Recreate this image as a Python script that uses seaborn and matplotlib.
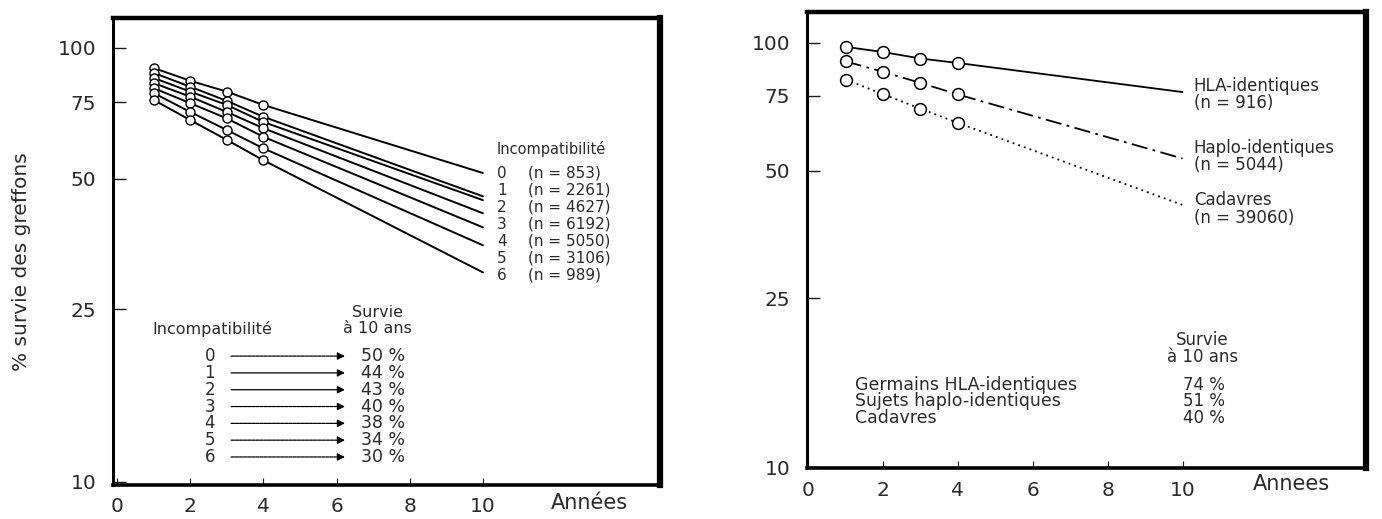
import matplotlib
matplotlib.use("Agg")
import matplotlib.pyplot as plt
import seaborn as sns
import numpy as np
import pandas as pd

# --- data ---
annees = [1, 2, 3, 4, 10]

# left panel: survival by number of incompatibilities
incompat = ["0", "1", "2", "3", "4", "5", "6"]
effectifs = ["853", "2261", "4627", "6192", "5050", "3106", "989"]
survie_incompat = [
    [89.9, 84.0, 79.3, 73.9, 51.5],
    [87.6, 81.4, 75.5, 69.4, 45.5],
    [85.3, 79.3, 73.9, 67.5, 44.6],
    [83.0, 77.2, 71.2, 65.3, 41.6],
    [80.8, 74.6, 68.8, 62.4, 38.6],
    [78.7, 71.2, 64.7, 58.7, 35.1],
    [75.9, 68.2, 61.4, 55.1, 30.4],
]
survie_10ans_incompat = ["50 %", "44 %", "43 %", "40 %", "38 %", "34 %", "30 %"]

# right panel: donor type
donneurs = ["HLA-identiques", "Haplo-identiques", "Cadavres"]
effectifs_donneurs = ["916", "5044", "39060"]
survie_hla = [97.9, 95.2, 91.9, 89.7, 76.6]
survie_haplo = [90.5, 85.5, 80.5, 75.6, 53.4]
survie_cadavres = [82.0, 75.7, 70.0, 64.8, 41.5]
lignes_tableau = ["Germains HLA-identiques", "Sujets haplo-identiques", "Cadavres"]
survie_10ans_donneurs = ["74 %", "51 %", "40 %"]

yticks = [10, 25, 50, 75, 100]
xticks = [0, 2, 4, 6, 8, 10]

sns.set_theme(style="white")
plt.rcParams["font.family"] = ["DejaVu Sans"]
TXT = "#2a2a2a"

fig = plt.figure(figsize=(13.82, 5.19), dpi=100)
W, H = 1382, 519
ax1 = fig.add_axes([113 / W, 1 - 485 / H, 547 / W, 467 / H])
ax2 = fig.add_axes([807 / W, 1 - 468 / H, 559 / W, 456 / H])


def style_axes(ax, xlim, ylim):
    ax.set_yscale("log")
    ax.set_xlim(*xlim)
    ax.set_ylim(*ylim)
    ax.set_yticks(yticks)
    ax.set_yticklabels([str(v) for v in yticks])
    ax.yaxis.set_minor_locator(matplotlib.ticker.NullLocator())
    ax.set_xticks(xticks)
    ax.set_xticklabels([str(v) for v in xticks])
    ax.tick_params(axis="y", direction="in", length=9, width=1.0, pad=12,
                   labelsize=14.5, colors="k", labelcolor=TXT, left=True)
    ax.tick_params(axis="x", direction="in", length=5, width=0.8, pad=9,
                   labelsize=14.5, colors="k", labelcolor=TXT, bottom=True)
    for side, lw in [("left", 2.2), ("bottom", 2.6), ("top", 3.2), ("right", 4.5)]:
        ax.spines[side].set_visible(True)
        ax.spines[side].set_color("black")
        ax.spines[side].set_linewidth(lw)
    ax.set_xlabel("")
    ax.set_ylabel("")
    ax.grid(False)


# --- LEFT PANEL ---
for vals in survie_incompat:
    sns.lineplot(x=annees, y=vals, ax=ax1, color="black", linewidth=1.4,
                 marker="o", markersize=6.5, markevery=[0, 1, 2, 3],
                 markerfacecolor="white", markeredgecolor="black",
                 markeredgewidth=1.0, errorbar=None, sort=True)
style_axes(ax1, (-0.11, 14.84), (9.84, 117.2))
ax1.text(12.9, -0.038, "Années", transform=ax1.get_xaxis_transform(),
         ha="center", va="center", fontsize=15, color=TXT)

tr = ax1.transAxes
ax1.text(0.702, 0.7195, "Incompatibilité", transform=tr, ha="left",
         va="center", fontsize=10.5, color=TXT)
for i, (k, n) in enumerate(zip(incompat, effectifs)):
    y = 0.668 - i * 0.0364
    ax1.text(0.711, y, k, transform=tr, ha="center", va="center",
             fontsize=11, color=TXT)
    ax1.text(0.759, y, f"(n = {n})", transform=tr, ha="left", va="center",
             fontsize=11, color=TXT)

ax1.text(0.483, 0.370, "Survie", transform=tr, ha="center", va="center",
         fontsize=11.5, color=TXT)
ax1.text(0.483, 0.336, "à 10 ans", transform=tr, ha="center", va="center",
         fontsize=11.5, color=TXT)
ax1.text(0.0713, 0.334, "Incompatibilité", transform=tr, ha="left",
         va="center", fontsize=11.5, color=TXT)
for i, (k, s) in enumerate(zip(incompat, survie_10ans_incompat)):
    y = 0.276 - i * 0.036
    ax1.text(0.177, y, k, transform=tr, ha="center", va="center",
             fontsize=12, color=TXT)
    ls = "-" if k in ("1", "2") else (0, (2.5, 0.8))
    ax1.annotate("", xy=(0.424, y), xytext=(0.216, y), xycoords=tr,
                 textcoords=tr,
                 arrowprops=dict(arrowstyle="-|>", color="black", lw=0.9,
                                 linestyle=ls, mutation_scale=11,
                                 shrinkA=0, shrinkB=0))
    ax1.text(0.453, y, s, transform=tr, ha="left", va="center",
             fontsize=12.5, color=TXT)

fig.text(22 / W, 1 - 262 / H, "% survie des greffons", rotation=90,
         ha="center", va="center", fontsize=14.5, color=TXT)

# --- RIGHT PANEL ---
styles = ["-", (0, (9, 3, 1.5, 3)), (0, (1, 2.3))]
for vals, ls in zip([survie_hla, survie_haplo, survie_cadavres], styles):
    sns.lineplot(x=annees, y=vals, ax=ax2, color="black", linewidth=1.3,
                 linestyle=ls, marker="o", markersize=8.5,
                 markevery=[0, 1, 2, 3], markerfacecolor="white",
                 markeredgecolor="black", markeredgewidth=1.1,
                 errorbar=None, sort=True)
style_axes(ax2, (-0.03, 14.9), (9.95, 118.3))
ax2.text(12.9, -0.036, "Annees", transform=ax2.get_xaxis_transform(),
         ha="center", va="center", fontsize=15, color=TXT)

tr2 = ax2.transAxes
label_y = [(0.838, 0.800), (0.702, 0.664), (0.588, 0.548)]
for nom, n, (y1, y2) in zip(donneurs, effectifs_donneurs, label_y):
    ax2.text(0.692, y1, nom, transform=tr2, ha="left", va="center",
             fontsize=12, color=TXT)
    ax2.text(0.692, y2, f"(n = {n})", transform=tr2, ha="left", va="center",
             fontsize=12, color=TXT)

ax2.text(0.707, 0.281, "Survie", transform=tr2, ha="center", va="center",
         fontsize=12, color=TXT)
ax2.text(0.707, 0.243, "à 10 ans", transform=tr2, ha="center", va="center",
         fontsize=12, color=TXT)
for i, (nom, s) in enumerate(zip(lignes_tableau, survie_10ans_donneurs)):
    y = 0.182 - i * 0.036
    ax2.text(0.086, y, nom, transform=tr2, ha="left", va="center",
             fontsize=12.5, color=TXT)
    ax2.text(0.710, y, s, transform=tr2, ha="center", va="center",
             fontsize=12, color=TXT)

plt.savefig("out.png", dpi=100)
plt.close()
